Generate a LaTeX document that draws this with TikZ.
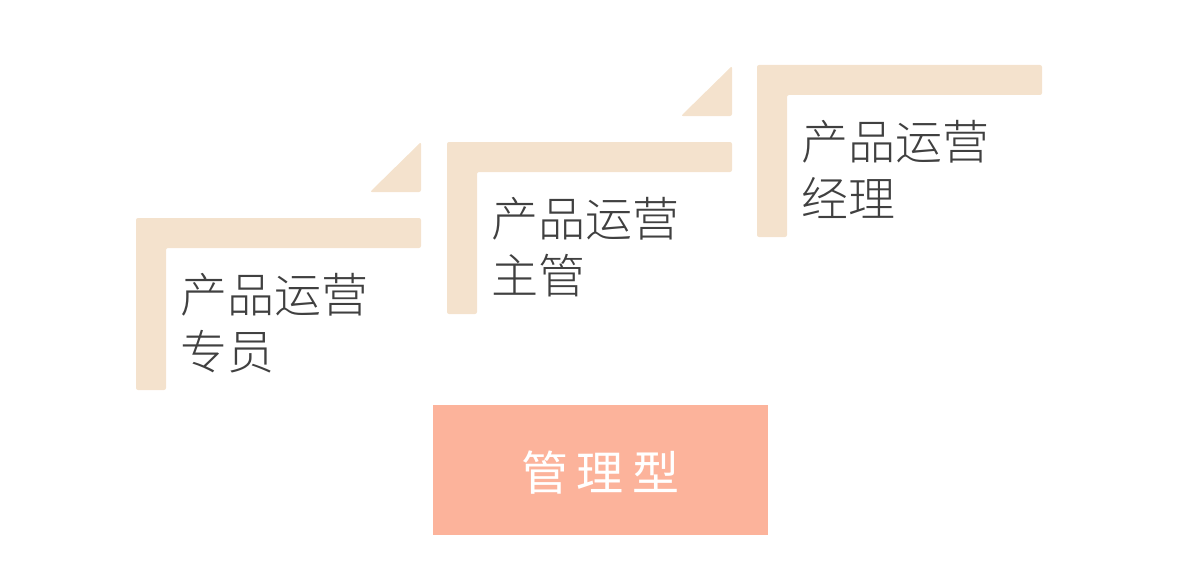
\documentclass[tikz,border=0pt]{standalone}
\usepackage{fontspec}
\newfontfamily\cjklight{Noto Sans CJK SC Light}
\newfontfamily\cjk{Noto Sans CJK SC}
\usetikzlibrary{positioning}
\definecolor{stepbeige}{HTML}{F4E2CD}
\definecolor{mgmtsalmon}{HTML}{FCB39B}
\definecolor{roletextgray}{HTML}{404040}

\begin{document}
\begin{tikzpicture}[x=1pt,y=-1pt,
    stepbar/.style={fill=stepbeige,rounded corners=2pt},
    roletext/.style={anchor=base west,inner sep=0pt,align=left,
        font=\cjklight\fontsize{47}{57}\selectfont,text=roletextgray}
]
\useasboundingbox (0,0) rectangle (1200,578);
\foreach \i/\sx/\sy/\role in {1/136/218/专员,2/447/142/主管,3/757/65/经理}{
    \begin{scope}[shift={(\sx,\sy)}]
        \fill[stepbar] (0,0) -- (285,0) -- (285,30) -- (30,30) -- (30,172) -- (0,172) -- cycle;
        \node[roletext] (role\i) at (44,151) {产品运营\\\role};
    \end{scope}
}
% corner wedges only ahead of the first two steps
\foreach \sx/\sy in {136/218,447/142}{
    \fill[stepbar,shift={(\sx,\sy)}] (234,-26) -- (285,-26) -- (285,-76) -- cycle;
}
\node[fill=mgmtsalmon,minimum width=335pt,minimum height=130pt,inner sep=0pt,
    text=white,font=\cjk\fontsize{47}{57}\selectfont] (mgmt) at (600.5,470) {};
\node[text=white,inner sep=0pt,font=\cjk\fontsize{47}{57}\selectfont]
    (mgmtlabel) at ([yshift=-3pt]mgmt.center) {管\hspace{9pt}理\hspace{9pt}型};
\end{tikzpicture}
\end{document}
